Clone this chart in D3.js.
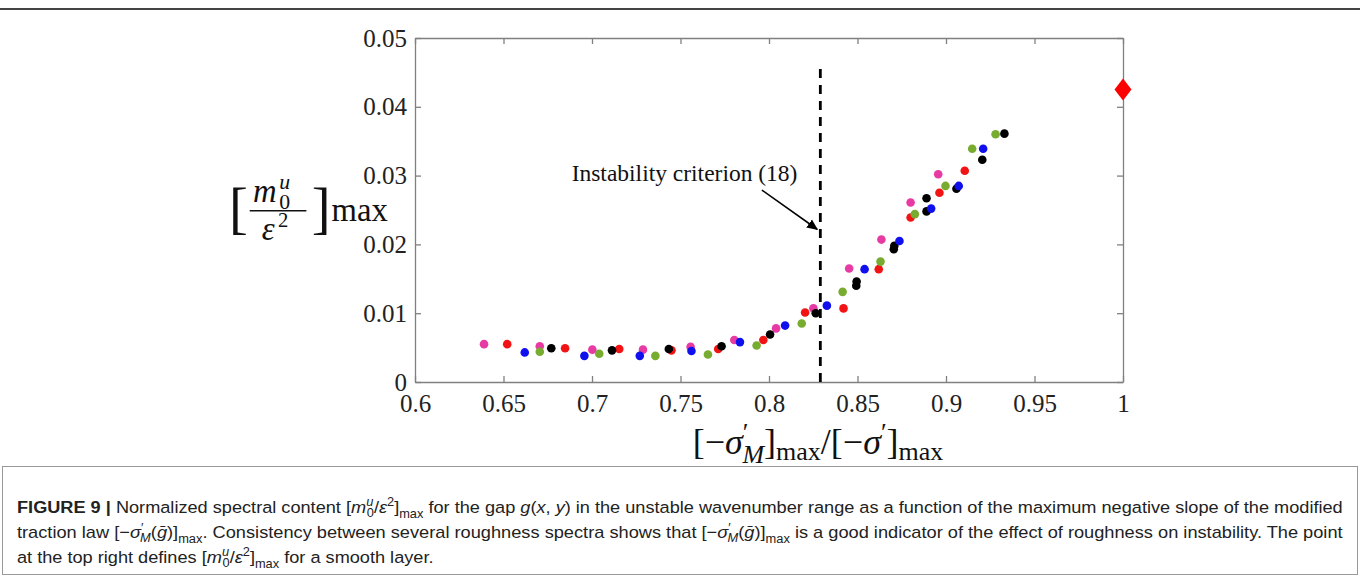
<!DOCTYPE html>
<html>
<head>
<meta charset="utf-8">
<script src="https://cdn.jsdelivr.net/npm/d3@7"></script>
<style>
  html, body { margin: 0; padding: 0; background: #fff; }
  svg { display: block; }
  .tick text { font-family: "Liberation Serif", "DejaVu Serif", serif; font-size: 25px; fill: #222; }
  .axis path, .axis line { stroke: #808080; stroke-width: 1.3; }
</style>
</head>
<body>
<svg width="1360" height="575"></svg>
<script>
// Valori
const xTicks = [0.6, 0.65, 0.7, 0.75, 0.8, 0.85, 0.9, 0.95, 1];
const yTicks = [0, 0.01, 0.02, 0.03, 0.04, 0.05];

const pinkX = [0.639, 0.6705, 0.7002, 0.7288, 0.7557, 0.7804, 0.804, 0.8251, 0.8453, 0.8635, 0.88, 0.8956];
const pinkY = [0.0055, 0.0052, 0.0047, 0.0047, 0.0051, 0.0061, 0.0078, 0.0107, 0.0165, 0.0207, 0.0261, 0.0302];
const redX = [0.6521, 0.6848, 0.7154, 0.7449, 0.7713, 0.7968, 0.8204, 0.8421, 0.862, 0.88, 0.8963, 0.9106];
const redY = [0.0055, 0.0049, 0.0048, 0.0046, 0.0048, 0.0061, 0.0101, 0.0107, 0.0164, 0.0239, 0.0275, 0.0307];
const greenX = [0.6705, 0.7041, 0.7358, 0.7655, 0.793, 0.8185, 0.8416, 0.863, 0.8824, 0.8997, 0.9148, 0.928];
const greenY = [0.0044, 0.0041, 0.0038, 0.004, 0.0053, 0.0085, 0.0131, 0.0175, 0.0244, 0.0285, 0.0339, 0.036];
const blackX = [0.677, 0.7113, 0.7434, 0.7732, 0.8006, 0.8264, 0.8493, 0.8495, 0.8705, 0.8708, 0.889, 0.889, 0.9059, 0.9205, 0.933];
const blackY = [0.0049, 0.0046, 0.0048, 0.0052, 0.0069, 0.01, 0.014, 0.0146, 0.0193, 0.0198, 0.0248, 0.0267, 0.0281, 0.0323, 0.0361];
const blueX = [0.662, 0.6957, 0.727, 0.7562, 0.7836, 0.8091, 0.8327, 0.854, 0.8737, 0.8916, 0.9072, 0.921];
const blueY = [0.0043, 0.0038, 0.0038, 0.0045, 0.0058, 0.0082, 0.0111, 0.0164, 0.0205, 0.0252, 0.0285, 0.0339];

const smoothX = [1];
const smoothY = [0.0425];
const criterionX = 0.829;

const svg = d3.select("svg");
const x = d3.scaleLinear().domain([0.6, 1]).range([415, 1123]);
const y = d3.scaleLinear().domain([0, 0.05]).range([382, 38]);

const series = [
  { xs: pinkX, ys: pinkY, color: "#e83aa3" },
  { xs: redX, ys: redY, color: "#f21414" },
  { xs: greenX, ys: greenY, color: "#77ac30" },
  { xs: blackX, ys: blackY, color: "#000000" },
  { xs: blueX, ys: blueY, color: "#1010ee" },
];

// cornice superiore e riquadro della didascalia
svg.append("line")
  .attr("x1", 0).attr("x2", 1360).attr("y1", 9).attr("y2", 9)
  .attr("stroke", "#444").attr("stroke-width", 2);
svg.append("rect")
  .attr("x", 2.5).attr("y", 466.5).attr("width", 1355).attr("height", 108)
  .attr("fill", "#fff").attr("stroke", "#999").attr("stroke-width", 1);

// assi (box on, tacche verso l'interno)
svg.append("g").attr("class", "axis")
  .attr("transform", `translate(0,${y(0)})`)
  .call(d3.axisBottom(x).tickValues(xTicks).tickFormat(d3.format("")).tickSize(-6).tickSizeOuter(0).tickPadding(12));
svg.append("g").attr("class", "axis")
  .attr("transform", `translate(0,${y(0.05)})`)
  .call(d3.axisTop(x).tickValues(xTicks).tickFormat("").tickSize(-6).tickSizeOuter(0));
svg.append("g").attr("class", "axis")
  .attr("transform", `translate(${x(0.6)},0)`)
  .call(d3.axisLeft(y).tickValues(yTicks).tickFormat(d3.format("")).tickSize(-6).tickSizeOuter(0).tickPadding(8));
svg.append("g").attr("class", "axis")
  .attr("transform", `translate(${x(1)},0)`)
  .call(d3.axisRight(y).tickValues(yTicks).tickFormat("").tickSize(-6).tickSizeOuter(0));

// linea tratteggiata del criterio
svg.append("line")
  .attr("x1", x(criterionX)).attr("x2", x(criterionX))
  .attr("y1", y(0)).attr("y2", y(0.0464))
  .attr("stroke", "#000").attr("stroke-width", 2.8)
  .attr("stroke-dasharray", "9,7");

// punti
series.forEach((s) => {
  svg.append("g")
    .selectAll("circle")
    .data(s.xs.map((v, i) => [v, s.ys[i]]))
    .join("circle")
    .attr("cx", (d) => x(d[0]))
    .attr("cy", (d) => y(d[1]))
    .attr("r", 4.3)
    .attr("fill", s.color);
});

svg.append("g")
  .selectAll("path")
  .data(smoothX.map((v, i) => [v, smoothY[i]]))
  .join("path")
  .attr("transform", (d) => `translate(${x(d[0])},${y(d[1])})`)
  .attr("d", "M0,-11L8.5,0L0,11L-8.5,0Z")
  .attr("fill", "#ff0000");

// annotazione con freccia
const defs = svg.append("defs");
defs.append("marker")
  .attr("id", "arrow")
  .attr("viewBox", "0 -5 10 10")
  .attr("refX", 9)
  .attr("markerWidth", 11)
  .attr("markerHeight", 11)
  .attr("markerUnits", "userSpaceOnUse")
  .attr("orient", "auto")
  .append("path")
  .attr("d", "M0,-4.5L10,0L0,4.5Z")
  .attr("fill", "#000");

const serif = "Liberation Serif, DejaVu Serif, serif";
svg.append("text")
  .attr("x", x(0.6885)).attr("y", y(0.0292))
  .attr("font-family", serif)
  .attr("font-size", 23.5).attr("fill", "#111")
  .text("Instability criterion (18)");

svg.append("line")
  .attr("x1", x(0.796)).attr("y1", y(0.0279))
  .attr("x2", x(0.8272)).attr("y2", y(0.0222))
  .attr("stroke", "#000").attr("stroke-width", 1.6)
  .attr("marker-end", "url(#arrow)");

// etichetta asse y: [m0^u / eps^2] max
const yl = svg.append("g")
  .attr("transform", `translate(229,${y(0.0249)}) scale(1.09)`)
  .attr("font-family", serif).attr("fill", "#111");
yl.append("text").attr("x", 0).attr("y", 15).attr("font-size", 52).text("[");
yl.append("text").attr("x", 22).attr("y", -8).attr("font-size", 30).attr("font-style", "italic").text("m");
yl.append("text").attr("x", 46).attr("y", -20).attr("font-size", 20).attr("font-style", "italic").text("u");
yl.append("text").attr("x", 46).attr("y", -2).attr("font-size", 20).text("0");
yl.append("line").attr("x1", 19).attr("x2", 71).attr("y1", 0).attr("y2", 0)
  .attr("stroke", "#111").attr("stroke-width", 1.4);
yl.append("text").attr("x", 30).attr("y", 27).attr("font-size", 30).attr("font-style", "italic").text("ε");
yl.append("text").attr("x", 45).attr("y", 15).attr("font-size", 19).text("2");
yl.append("text").attr("x", 76).attr("y", 15).attr("font-size", 52).text("]");
yl.append("text").attr("x", 94).attr("y", 9).attr("font-size", 30).text("max");

// etichetta asse x
const xl = svg.append("text")
  .attr("x", 818).attr("y", 454)
  .attr("text-anchor", "middle")
  .attr("font-family", serif).attr("font-size", 36).attr("fill", "#111");
xl.append("tspan").text("[−");
xl.append("tspan").attr("font-style", "italic").text("σ");
xl.append("tspan").attr("font-size", 26).attr("dy", -13).text("′");
xl.append("tspan").attr("font-size", 26).attr("font-style", "italic").attr("dy", 22).attr("dx", -6).text("M");
xl.append("tspan").attr("dy", -9).text("]");
xl.append("tspan").attr("font-size", 26).attr("dy", 6).text("max");
xl.append("tspan").attr("dy", -6).text("/[−");
xl.append("tspan").attr("font-style", "italic").text("σ");
xl.append("tspan").attr("font-size", 26).attr("dy", -13).text("′");
xl.append("tspan").attr("dy", 13).text("]");
xl.append("tspan").attr("font-size", 26).attr("dy", 6).text("max");

// didascalia
function captionLine(yPos, parts) {
  const t = svg.append("text")
    .attr("x", 0).attr("y", yPos)
    .attr("font-family", "Liberation Sans Narrow, Liberation Sans, Arial, sans-serif")
    .attr("font-size", 17).attr("fill", "#222");
  let shift = 0;
  parts.forEach((p) => {
    const sp = t.append("tspan").text(p.t);
    const s = p.s || 0;
    if (s !== shift) sp.attr("dy", s - shift);
    shift = s;
    if (p.b) sp.attr("font-weight", "bold");
    if (p.i) sp.attr("font-style", "italic");
    if (p.fs) sp.attr("font-size", p.fs);
    if (p.dx) sp.attr("dx", p.dx);
  });
  return t;
}

const mPart = [
  { t: "[" }, { t: "m", i: true }, { t: "u", i: true, fs: 12, s: -7 }, { t: "0", fs: 12, s: 4, dx: -6 },
  { t: "/" }, { t: "ε", i: true }, { t: "2", fs: 12, s: -7 }, { t: "]" }, { t: "max", fs: 12, s: 5 },
];
const sPart = [
  { t: "[−" }, { t: "σ", i: true }, { t: "′", fs: 12, s: -6 }, { t: "M", i: true, fs: 12, s: 4, dx: -3 },
  { t: "(" }, { t: "ḡ", i: true }, { t: ")]" }, { t: "max", fs: 12, s: 5 },
];

const l1 = captionLine(513, [
  { t: "FIGURE 9 | ", b: true }, { t: "Normalized spectral content " }, ...mPart,
  { t: " for the gap " }, { t: "g", i: true }, { t: "(" }, { t: "x", i: true }, { t: ", " }, { t: "y", i: true },
  { t: ") in the unstable wavenumber range as a function of the maximum negative slope of the modified" },
]);
const l2 = captionLine(538, [
  { t: "traction law " }, ...sPart,
  { t: ". Consistency between several roughness spectra shows that " }, ...sPart,
  { t: " is a good indicator of the effect of roughness on instability. The point" },
]);
const l3 = captionLine(563, [
  { t: "at the top right defines " }, ...mPart, { t: " for a smooth layer." },
]);

// adatta le righe alla larghezza giustificata
const left = 17, right = 1344;
const k1 = (right - left) / l1.node().getBBox().width;
const k2 = (right - left) / l2.node().getBBox().width;
l1.attr("transform", `translate(${left},0) scale(${k1},1)`);
l2.attr("transform", `translate(${left},0) scale(${k2},1)`);
l3.attr("transform", `translate(${left},0) scale(${k1},1)`);
</script>
</body>
</html>
